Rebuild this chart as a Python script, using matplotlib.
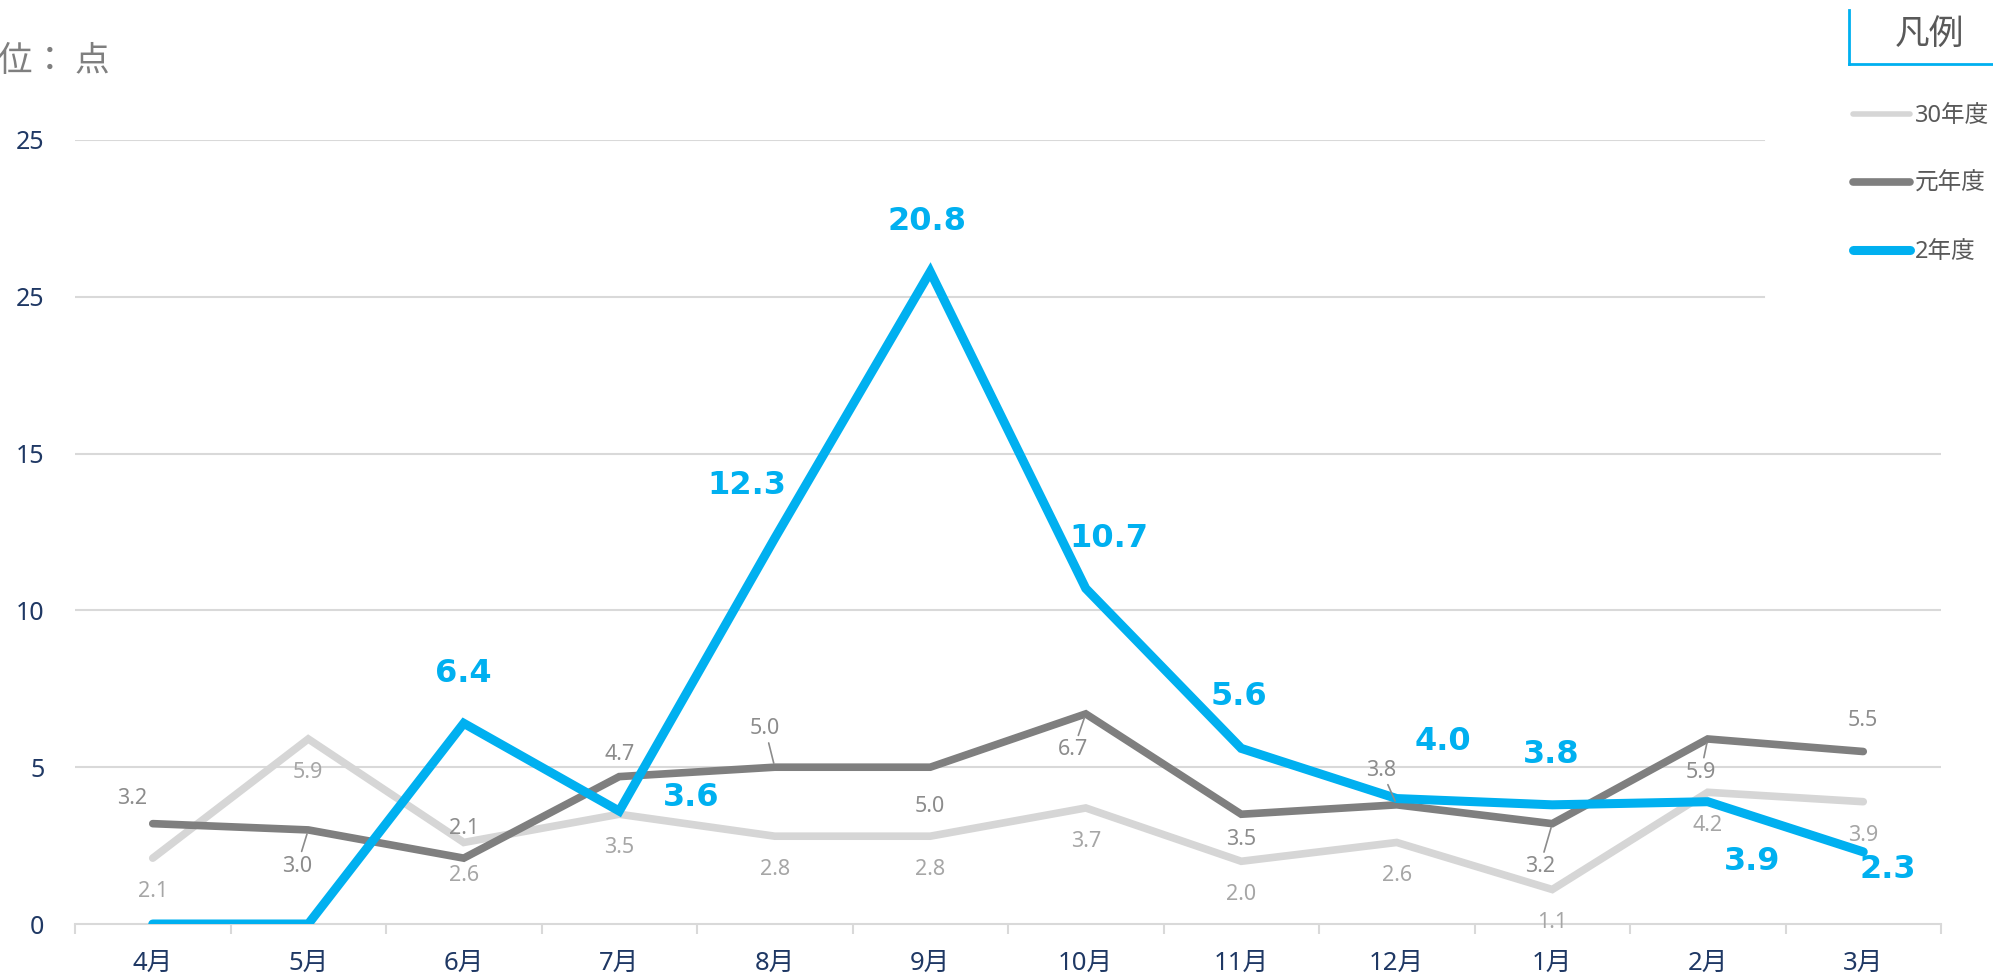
import matplotlib
matplotlib.use("Agg")
import matplotlib.pyplot as plt
from matplotlib.lines import Line2D

plt.rcParams['font.family'] = ['Noto Sans', 'Noto Sans CJK JP', 'DejaVu Sans']

# Data
months = ['4月', '5月', '6月', '7月', '8月', '9月', '10月', '11月', '12月', '1月', '2月', '3月']
series_names = ['30年度', '元年度', '2年度']
h30 = [2.1, 5.9, 2.6, 3.5, 2.8, 2.8, 3.7, 2.0, 2.6, 1.1, 4.2, 3.9]
r1 = [3.2, 3.0, 2.1, 4.7, 5.0, 5.0, 6.7, 3.5, 3.8, 3.2, 5.9, 5.5]
r2 = [0.0, 0.0, 6.4, 3.6, 12.3, 20.8, 10.7, 5.6, 4.0, 3.8, 3.9, 2.3]
y_ticks = [0, 5, 10, 15, 20, 25]
y_tick_labels = ['0', '5', '10', '15', '25', '25']

# Label offsets (points)
h30_off = [(0, -24)] * 12
r1_off = [(-15, 18), (-8, -26), (0, 21), (0, 16), (-7, 28), (0, -28),
          (-9, -26), (0, -18), (-11, 25), (-9, -31), (-5, -24), (0, 22)]
r1_leader = [False, True, False, False, True, False, True, False, True, True, True, False]
r2_off = [None, None, (0, 36), (52, 10), (-20, 38), (-2, 36), (17, 36),
          (-2, 37), (33, 41), (-1, 36), (32, -43), (18, -13)]

c_light = '#D6D6D6'
c_dark = '#7F7F7F'
c_blue = '#00B0F0'

fig = plt.figure(figsize=(19.93, 9.74), dpi=100)
ax = fig.add_axes([75 / 1993, 50 / 974, (1941 - 75) / 1993, (924 - 140) / 974])

x = list(range(len(months)))
l1, = ax.plot(x, h30, color=c_light, lw=5.5, solid_capstyle='round', solid_joinstyle='miter', zorder=3)
l2, = ax.plot(x, r1, color=c_dark, lw=5.5, solid_capstyle='round', solid_joinstyle='miter', zorder=4)
l3, = ax.plot(x, r2, color=c_blue, lw=6.5, solid_capstyle='round', solid_joinstyle='miter', zorder=5)

ax.set_xlim(-0.5, 11.5)
ax.set_ylim(0, 25)

# gridlines (top two stop short of the legend area)
for yv in y_ticks[1:]:
    xmax = (1764 - 75) / (1941 - 75) if yv >= 20 else 1
    ax.axhline(yv, xmax=xmax, color='#D9D9D9', lw=1.5, zorder=1)

for s in ['top', 'right', 'left']:
    ax.spines[s].set_visible(False)
ax.spines['bottom'].set_color('#D9D9D9')
ax.spines['bottom'].set_linewidth(1.5)

ax.set_xticks(x)
ax.set_xticklabels(months)
ax.set_xticks([i - 0.5 for i in range(13)], minor=True)
ax.tick_params(axis='x', which='major', length=0, pad=19, labelsize=18.5, labelcolor='#1F3864')
ax.tick_params(axis='x', which='minor', length=7, width=1.5, color='#D9D9D9')

ax.set_yticks(y_ticks)
ax.set_yticklabels(y_tick_labels)
ax.tick_params(axis='y', length=0, pad=22, labelsize=18, labelcolor='#1F3864')

# data labels
for i, v in enumerate(h30):
    ax.annotate(f'{v:.1f}', (i, v), xytext=h30_off[i], textcoords='offset points',
                ha='center', va='center', fontsize=15.5, color='#A6A6A6', zorder=6)

for i, v in enumerate(r1):
    ap = dict(arrowstyle='-', color='#8C8C8C', lw=1.2, shrinkA=1, shrinkB=3) if r1_leader[i] else None
    ax.annotate(f'{v:.1f}', (i, v), xytext=r1_off[i], textcoords='offset points',
                ha='center', va='center', fontsize=15.5, color='#8C8C8C', zorder=6,
                arrowprops=ap)

for i, v in enumerate(r2):
    if r2_off[i] is None:
        continue
    ax.annotate(f'{v:.1f}', (i, v), xytext=r2_off[i], textcoords='offset points',
                ha='center', va='center', fontsize=23, fontweight='bold', color=c_blue,
                family='DejaVu Sans', zorder=7)

# unit label (partly cut at the left edge, as in the original)
fig.text(-37 / 1993, 1 - 61 / 974, '単位： 点', fontsize=25, color='#7F7F7F',
         ha='left', va='center', family=['Noto Sans CJK JP', 'DejaVu Sans'])

# legend
leg = fig.legend([l1, l2, l3], series_names, loc='upper left',
                 bbox_to_anchor=(1844 / 1993, 1 - 95 / 974), frameon=False,
                 fontsize=17, handlelength=2.4, handletextpad=0.2, labelspacing=1.85,
                 borderaxespad=0)
for t in leg.get_texts():
    t.set_color('#595959')
leg.get_lines()[0].set_linewidth(4)

fig.text(1930 / 1993, 1 - 34 / 974, '凡例', fontsize=25, color='#595959', ha='center', va='center',
         family=['Noto Sans CJK JP', 'DejaVu Sans'])
fig.add_artist(Line2D([1849 / 1993, 1849 / 1993], [1 - 10 / 974, 1 - 64 / 974],
                      transform=fig.transFigure, color=c_blue, lw=2))
fig.add_artist(Line2D([1849 / 1993, 1.0], [1 - 64 / 974, 1 - 64 / 974],
                      transform=fig.transFigure, color=c_blue, lw=2))

fig.savefig('out.png', dpi=100, facecolor='white')
